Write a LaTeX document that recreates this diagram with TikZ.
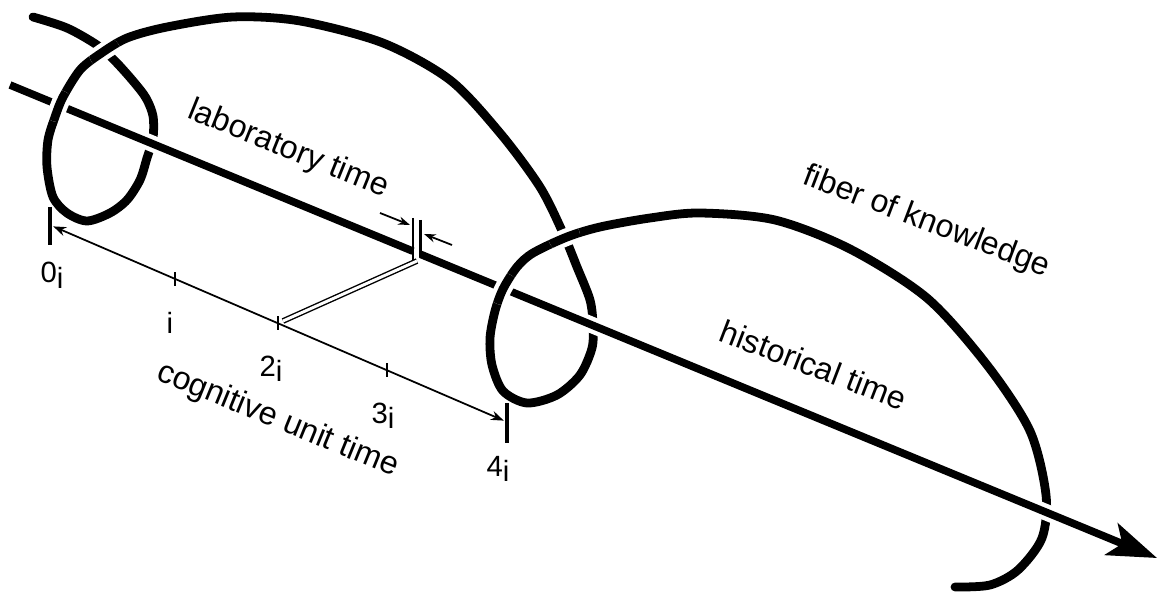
\documentclass[tikz,border=0pt]{standalone}
\usepackage{fontspec}
\setmainfont{Liberation Sans}
\usetikzlibrary{arrows.meta}
\tikzset{
  fiber/.style={line width=7.5pt, line cap=round},
  fiberhalo/.style={white, line width=15pt},
  timeline/.style={line width=6.5pt},
  timehalo/.style={white, line width=14pt},
  unitmark/.style={line width=1.5pt},
  lbl/.style={font=\fontsize{25}{29}\selectfont, anchor=base, inner sep=0pt},
  caption/.style={font=\fontsize{27.5}{32}\selectfont, anchor=base, inner sep=0pt},
}
\begin{document}
\begin{tikzpicture}[x=0.03cm, y=-0.03cm]
\useasboundingbox (0,0) rectangle (1160,598);

% fiber of knowledge (under everything)
\draw[fiber] plot[smooth] coordinates {(33,17) (67,28) (97,45) (115,61) (133,81) (146,98) (153,116) (153,138) (147,158) (140,180) (127,200) (110,213) (87,221) (67,213) (53,197) (47,167) (48,140) (55,117) (63,97) (80,70) (100,54) (127,38) (167,27) (233,17) (300,21) (383,43) (450,80) (500,133) (540,187) (563,233) (577,267) (590,300) (593,325) (592,348) (580,375) (557,395) (527,403) (503,391) (492,365) (490,338) (495,311) (503,289) (517,267) (533,253) (567,237) (600,227) (650,218) (700,213) (775,220) (850,249) (927,298) (987,365) (1030,431) (1046,495) (1042,538) (1018,570) (990,585) (955,587)};

% historical time axis, broken at the laboratory marks
\coordinate (start) at (10,85);
\coordinate (gapL) at (413,251.2);
\coordinate (gapR) at (420.5,254.3);
\coordinate (tip) at (1157,558);
\draw[timehalo] (start) -- (gapL);
\draw[timehalo] (gapR) -- (tip);
\draw[timeline] (start) -- (gapL);
\draw[timeline, -{Stealth[length=42pt, width=29pt, inset=10pt]}] (gapR) -- (tip);

% fiber over the axis and over itself, first loop
\begin{scope}
\clip (58,106) circle (16) (105,53) circle (16);
\draw[fiberhalo] plot[smooth] coordinates {(47,167) (48,140) (55,117) (63,97) (80,70) (100,54) (127,38) (167,27) (233,17)};
\draw[fiber] plot[smooth] coordinates {(47,167) (48,140) (55,117) (63,97) (80,70) (100,54) (127,38) (167,27) (233,17)};
\end{scope}

% fiber over the axis and over itself, second loop
\begin{scope}
\clip (503,289) circle (16) (564,236) circle (16);
\draw[fiberhalo] plot[smooth] coordinates {(490,338) (495,311) (503,289) (517,267) (533,253) (567,237) (600,227) (650,218) (700,213)};
\draw[fiber] plot[smooth] coordinates {(490,338) (495,311) (503,289) (517,267) (533,253) (567,237) (600,227) (650,218) (700,213)};
\end{scope}

% laboratory marks
\draw[line width=2.5pt] (413,218) -- (413,262);
\draw[line width=2.5pt] (420.5,220) -- (420.5,257);
\draw[unitmark, -{Stealth[length=10pt, width=7pt]}] (380,213) -- (410,225);
\draw[unitmark, -{Stealth[length=10pt, width=7pt]}] (452,245) -- (424,234);
\draw[double, line width=1.2pt, double distance=2.5pt] (283,321) -- (417,261);

% cognitive unit time axis
\coordinate (c0) at (50,225);
\coordinate (c4) at (507,422);
\draw[line width=3.5pt] (50,207) -- (50,245); %0i
\draw[line width=3.5pt] (507,403) -- (507,443); %4i
\draw[unitmark, {Stealth[length=11pt, width=8pt]}-{Stealth[length=11pt, width=8pt]}, shorten <=3pt, shorten >=3pt] (c0) -- (c4);
\draw[unitmark] (175,272) -- (175,286); %i
\draw[unitmark] (278,316) -- (278,330); %2i
\draw[unitmark] (387,363) -- (387,377); %3i

\node[lbl] (zero) at (52,283) {0\lower5pt\hbox{i}};
\node[lbl] (one) at (170,333) {i};
\node[lbl] (two) at (271,376) {2\lower5pt\hbox{i}};
\node[lbl] (three) at (383,423) {3\lower5pt\hbox{i}};
\node[lbl] (four) at (498,476) {4\lower5pt\hbox{i}};

\node[caption, rotate=-22] (lab) at (285,157.5) {laboratory time};
\node[caption, rotate=-22.2] (cog) at (274.5,428) {cognitive unit time};
\node[caption, rotate=-20.8] (fib) at (923.5,230) {fiber of knowledge};
\node[caption, rotate=-21] (hist) at (809.5,375.5) {historical time};
\end{tikzpicture}
\end{document}
